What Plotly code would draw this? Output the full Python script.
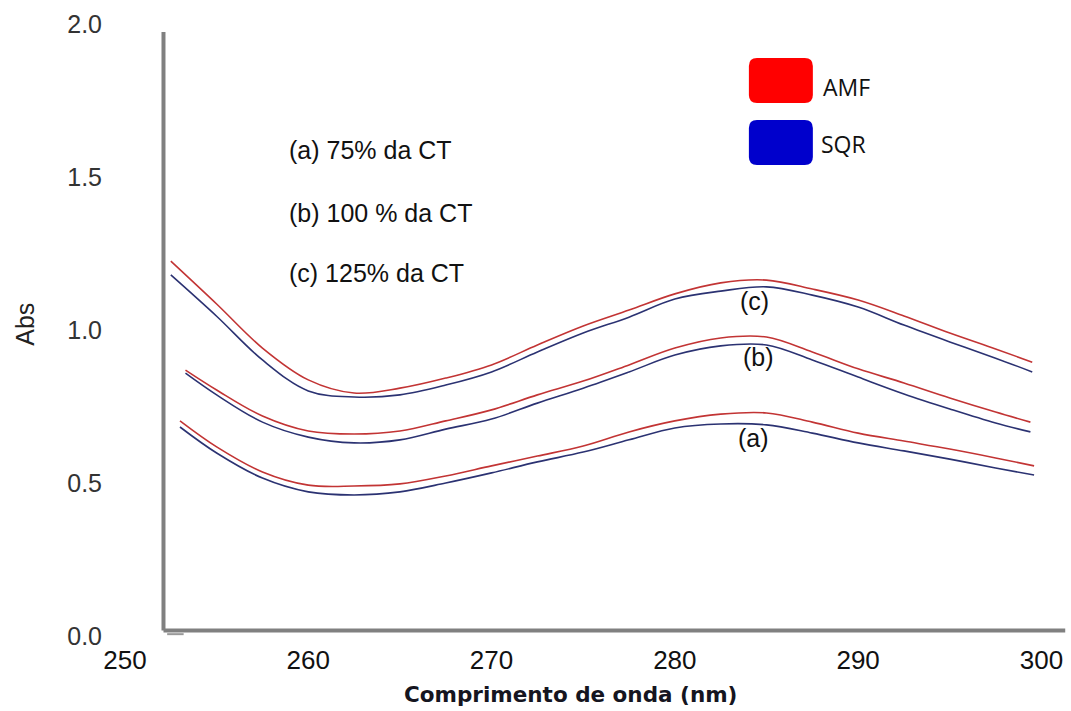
import plotly.graph_objects as go

# ---------------- data ----------------
wl_grid = [255, 257.5, 260, 262.5, 265, 267.5, 270, 272.5, 275, 277.5,
           280, 282.5, 285, 287.5, 290, 292.5, 295, 297.5]
wl_c = [252.5] + wl_grid + [299.5]
wl_b = [253.3] + wl_grid + [299.4]
wl_a = [253.0] + wl_grid + [299.6]

c_amf = [1.225, 1.085, 0.941, 0.837, 0.794, 0.810, 0.843, 0.886, 0.951, 1.013,
         1.065, 1.118, 1.154, 1.163, 1.134, 1.098, 1.046, 0.990, 0.938, 0.895]
c_sqr = [1.180, 1.045, 0.902, 0.801, 0.781, 0.788, 0.820, 0.863, 0.928, 0.990,
         1.042, 1.101, 1.127, 1.141, 1.114, 1.075, 1.016, 0.961, 0.908, 0.863]
b_amf = [0.869, 0.804, 0.719, 0.670, 0.660, 0.670, 0.703, 0.739, 0.788, 0.833,
         0.886, 0.941, 0.974, 0.977, 0.928, 0.873, 0.827, 0.778, 0.732, 0.699]
b_sqr = [0.859, 0.788, 0.699, 0.650, 0.631, 0.641, 0.676, 0.709, 0.761, 0.810,
         0.863, 0.918, 0.948, 0.951, 0.902, 0.846, 0.791, 0.742, 0.696, 0.667]
a_amf = [0.703, 0.618, 0.536, 0.493, 0.490, 0.497, 0.523, 0.556, 0.588, 0.621,
         0.667, 0.703, 0.725, 0.729, 0.699, 0.663, 0.637, 0.611, 0.582, 0.556]
a_sqr = [0.683, 0.598, 0.516, 0.471, 0.461, 0.471, 0.500, 0.533, 0.569, 0.601,
         0.641, 0.680, 0.693, 0.690, 0.663, 0.631, 0.605, 0.578, 0.549, 0.526]

x_ticks = [250, 260, 270, 280, 290, 300]
x_ticktext = ["250", "260", "270", "280", "290", "300"]
y_ticks = [0.0, 0.5, 1.0, 1.5, 2.0]
y_ticktext = ["0.0", "0.5", "1.0", "1.5", "2.0"]

series_names = ["AMF", "SQR"]
notes = ["(a) 75% da CT", "(b) 100 % da CT", "(c) 125% da CT"]
curve_labels = ["(a)", "(b)", "(c)"]

# ---------------- figure ----------------
RED_LINE = "#c23434"
BLUE_LINE = "#2b3272"
fig = go.Figure()
for wl, amf, sqr in [(wl_c, c_amf, c_sqr), (wl_b, b_amf, b_sqr), (wl_a, a_amf, a_sqr)]:
    fig.add_trace(go.Scatter(x=wl, y=sqr, mode="lines", line=dict(color=BLUE_LINE, width=1.6, shape="spline"),
                             showlegend=False, hoverinfo="skip"))
    fig.add_trace(go.Scatter(x=wl, y=amf, mode="lines", line=dict(color=RED_LINE, width=1.6, shape="spline"),
                             showlegend=False, hoverinfo="skip"))

# axis lines (drawn as in the original, starting near 252 nm)
AX = "#808080"
fig.add_shape(type="line", x0=252.1, x1=252.1, y0=0.018, y1=1.974, line=dict(color=AX, width=4))
fig.add_shape(type="line", x0=252.1, x1=301.3, y0=0.018, y1=0.018, line=dict(color=AX, width=4))
fig.add_shape(type="line", x0=252.3, x1=253.2, y0=0.006, y1=0.006, line=dict(color="#999999", width=2))

# legend boxes (rounded)
def rrect(x0, x1, y0, y1, rx=0.44, ry=0.026):
    return (f"M {x0+rx},{y1} L {x1-rx},{y1} Q {x1},{y1} {x1},{y1-ry} "
            f"L {x1},{y0+ry} Q {x1},{y0} {x1-rx},{y0} L {x0+rx},{y0} "
            f"Q {x0},{y0} {x0},{y0+ry} L {x0},{y1-ry} Q {x0},{y1} {x0+rx},{y1} Z")

fig.add_shape(type="path", path=rrect(284.04, 287.53, 1.742, 1.889), fillcolor="#ff0000", line=dict(width=0))
fig.add_shape(type="path", path=rrect(284.04, 287.53, 1.539, 1.686), fillcolor="#0000cc", line=dict(width=0))
fig.add_annotation(x=288.0, y=1.794, text=series_names[0], showarrow=False, xanchor="left", yanchor="middle",
                   font=dict(family="Open Sans", size=23, color="#111111"))
fig.add_annotation(x=287.85, y=1.608, text=series_names[1], showarrow=False, xanchor="left", yanchor="middle",
                   font=dict(family="Open Sans", size=23, color="#111111"))

# notes
for txt, yy in zip(notes, [1.588, 1.382, 1.186]):
    fig.add_annotation(x=258.84, y=yy, text=txt, showarrow=False, xanchor="left", yanchor="middle",
                       font=dict(family="Liberation Sans", size=25, color="#111111"))
for txt, xx, yy in zip(curve_labels, [284.31, 284.59, 284.37], [0.647, 0.912, 1.095]):
    fig.add_annotation(x=xx, y=yy, text=txt, showarrow=False, xanchor="center", yanchor="middle",
                       font=dict(family="Liberation Sans", size=25, color="#111111"))

# axis titles
fig.add_annotation(xref="paper", yref="y", x=-0.106, y=1.02, text="Abs", textangle=-90, showarrow=False,
                   xanchor="center", yanchor="middle", font=dict(family="Liberation Sans", size=25, color="#222222"))
fig.add_annotation(xref="x", yref="paper", x=274.3, y=-0.095, text="<b>Comprimento de onda (nm)</b>",
                   showarrow=False, xanchor="center", yanchor="middle",
                   font=dict(family="DejaVu Sans", size=21.5, color="#151520"))

fig.update_layout(
    width=1071, height=711, autosize=False,
    margin=dict(l=125, r=1, t=24, b=75),
    paper_bgcolor="white", plot_bgcolor="white",
    showlegend=False,
    xaxis=dict(range=[250, 301.56], tickvals=x_ticks, ticktext=x_ticktext, showgrid=False, zeroline=False,
               showline=False, ticks="", ticklabelstandoff=6,
               tickfont=dict(family="Liberation Sans", size=26, color="#111111")),
    yaxis=dict(range=[0, 2.0], tickvals=y_ticks, ticktext=y_ticktext, showgrid=False, zeroline=False,
               showline=False, ticks="", ticklabelstandoff=22,
               tickfont=dict(family="Liberation Sans", size=25, color="#333333")),
)

fig.write_html("out.html", config={"displayModeBar": False})
